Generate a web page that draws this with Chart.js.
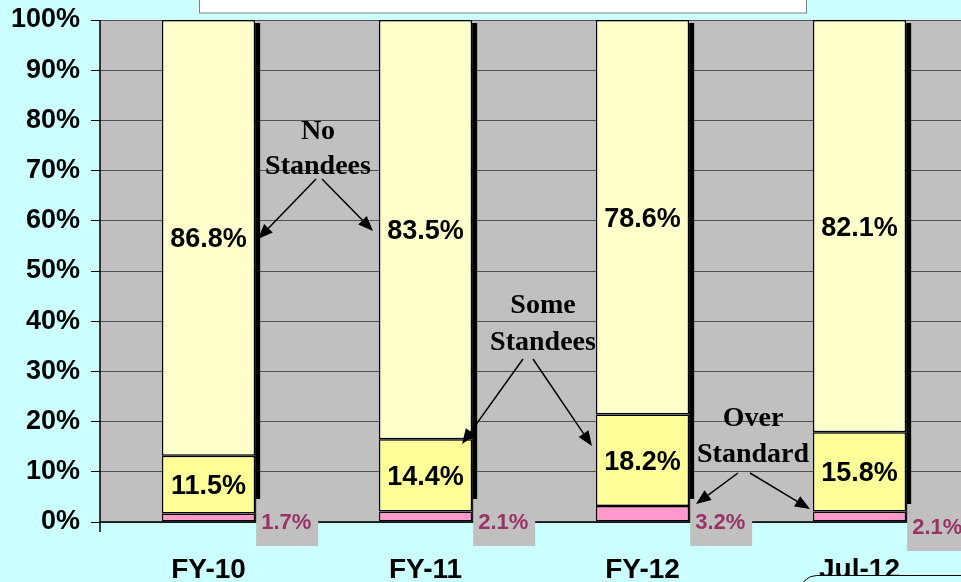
<!DOCTYPE html>
<html>
<head>
<meta charset="utf-8">
<script src="https://cdn.jsdelivr.net/npm/chart.js@4"></script>
<style>
    html, body { margin: 0; padding: 0; background: #ccffff; overflow: hidden; }
    #wrap { width: 961px; height: 582px; overflow: hidden; position: relative; }
</style>
</head>
<body>
<div id="wrap"><canvas id="standeeChart" width="980" height="582"></canvas></div>
<script>
const categories = ["FY-10", "FY-11", "FY-12", "Jul-12"];
const overStandard = [1.7, 2.1, 3.2, 2.1];
const someStandees = [11.5, 14.4, 18.2, 15.8];
const noStandees = [86.8, 83.5, 78.6, 82.1];
const yTicks = [0, 10, 20, 30, 40, 50, 60, 70, 80, 90, 100];

const BG = "#ccffff";
const PLOT = "#c0c0c0";

function arrow(ctx, x1, y1, x2, y2) {
    const ang = Math.atan2(y2 - y1, x2 - x1);
    const len = 15, half = 6;
    const bx = x2 - len * Math.cos(ang), by = y2 - len * Math.sin(ang);
    ctx.beginPath();
    ctx.moveTo(x1, y1);
    ctx.lineTo(bx, by);
    ctx.strokeStyle = "#000";
    ctx.lineWidth = 1.5;
    ctx.stroke();
    ctx.beginPath();
    ctx.moveTo(x2, y2);
    ctx.lineTo(bx + half * Math.sin(ang), by - half * Math.cos(ang));
    ctx.lineTo(bx - half * Math.sin(ang), by + half * Math.cos(ang));
    ctx.closePath();
    ctx.fillStyle = "#000";
    ctx.fill();
}

const backdrop = {
    id: "backdrop",
    beforeDraw(chart) {
        const { ctx, chartArea: a } = chart;
        ctx.save();
        ctx.fillStyle = BG;
        ctx.fillRect(0, 0, chart.width, chart.height);
        ctx.fillStyle = PLOT;
        ctx.fillRect(a.left, a.top, a.right - a.left, a.bottom - a.top);
        ctx.restore();
    },
};

const decorations = {
    id: "decorations",
    afterDatasetsDraw(chart) {
        const { ctx, chartArea: a } = chart;
        const y = chart.scales.y;
        const topMeta = chart.getDatasetMeta(2);
        const midMeta = chart.getDatasetMeta(1);
        const lowMeta = chart.getDatasetMeta(0);
        ctx.save();

        // axis lines
        ctx.strokeStyle = "#000";
        ctx.lineWidth = 1.5;
        ctx.beginPath();
        ctx.moveTo(a.left, a.bottom);
        ctx.lineTo(a.right, a.bottom);
        ctx.moveTo(a.left, a.top);
        ctx.lineTo(a.left, a.bottom + 10);
        ctx.stroke();

        // 3-D shadow on the right of each bar
        topMeta.data.forEach((bar) => {
            const right = bar.x + bar.width / 2;
            ctx.fillStyle = "#000";
            ctx.fillRect(right, bar.y + 3, 5, y.getPixelForValue(0) - bar.y - 3);
        });

        // values inside the bars
        ctx.fillStyle = "#000";
        ctx.font = "bold 27px 'Liberation Sans', Arial, sans-serif";
        ctx.textAlign = "center";
        ctx.textBaseline = "middle";
        topMeta.data.forEach((bar, i) => {
            ctx.fillText(noStandees[i].toFixed(1) + "%", bar.x, (bar.y + bar.base) / 2 + 2);
        });
        midMeta.data.forEach((bar, i) => {
            ctx.fillText(someStandees[i].toFixed(1) + "%", bar.x, (bar.y + bar.base) / 2 + 2);
        });

        // over-standard labels in grey boxes
        ctx.font = "bold 22px 'Liberation Sans', Arial, sans-serif";
        lowMeta.data.forEach((bar, i) => {
            const left = bar.x + bar.width / 2 + 1;
            const top = i === 3 ? 504 : 499;
            ctx.fillStyle = PLOT;
            ctx.fillRect(left, top, 62, 47);
            ctx.fillStyle = "#993366";
            ctx.textAlign = "left";
            ctx.fillText(overStandard[i].toFixed(1) + "%", left + 5, top + 24);
        });

        // annotations
        ctx.fillStyle = "#000";
        ctx.textAlign = "center";
        ctx.font = "bold 28px 'Liberation Serif', 'Times New Roman', serif";
        ctx.fillText("No", 318, 132);
        ctx.fillText("Standees", 318, 167);
        ctx.fillText("Some", 543, 306);
        ctx.fillText("Standees", 543, 343);
        ctx.fillText("Over", 753, 419);
        ctx.fillText("Standard", 753, 455);
        arrow(ctx, 316, 179, 258, 239);
        arrow(ctx, 322, 179, 373, 231);
        arrow(ctx, 523, 359, 462, 444);
        arrow(ctx, 533, 359, 592, 446);
        arrow(ctx, 738, 473, 696, 504);
        arrow(ctx, 750, 473, 810, 509);

        // title box remnant at top
        ctx.fillStyle = "#fff";
        ctx.fillRect(199, -2, 607, 15);
        ctx.strokeStyle = "#808080";
        ctx.lineWidth = 1;
        ctx.strokeRect(199.5, -2, 607, 15);
        ctx.restore();
    },
    afterDraw(chart) {
        const { ctx } = chart;
        ctx.save();
        ctx.beginPath();
        ctx.roundRect(800.5, 575.5, 200, 40, 16);
        ctx.fillStyle = BG;
        ctx.fill();
        ctx.strokeStyle = "#000";
        ctx.lineWidth = 1;
        ctx.stroke();
        ctx.restore();
    },
};

new Chart(document.getElementById("standeeChart"), {
    type: "bar",
    data: {
        labels: categories,
        datasets: [
            { label: "Over Standard", data: overStandard, backgroundColor: "#ff99cc" },
            { label: "Some Standees", data: someStandees, backgroundColor: "#ffff99" },
            { label: "No Standees", data: noStandees, backgroundColor: "#ffffcc" },
        ].map((ds) => ({
            ...ds,
            borderColor: "#000",
            borderWidth: 1.5,
            borderSkipped: false,
            barPercentage: 1,
            categoryPercentage: 0.43,
        })),
    },
    options: {
        responsive: false,
        animation: false,
        layout: { padding: { top: 20, right: 12, left: 0, bottom: 0 } },
        plugins: { legend: { display: false }, tooltip: { enabled: false } },
        scales: {
            x: {
                stacked: true,
                grid: { display: false, drawTicks: false },
                border: { display: false },
                ticks: {
                    color: "#000",
                    padding: 31,
                    font: { family: "'Liberation Sans', Arial, sans-serif", size: 28, weight: "bold" },
                },
                afterFit(scale) {
                    scale.height = 60;
                    scale.paddingLeft = 0;
                    scale.paddingRight = 0;
                },
            },
            y: {
                stacked: true,
                min: 0,
                max: 100,
                afterBuildTicks(scale) { scale.ticks = yTicks.map((v) => ({ value: v })); },
                grid: { color: "#505050", lineWidth: 1, tickColor: "#000", tickLength: 9 },
                border: { display: false },
                ticks: {
                    color: "#000",
                    padding: 11,
                    callback: (v) => v + "%",
                    font: { family: "'Liberation Sans', Arial, sans-serif", size: 27, weight: "bold" },
                },
                afterFit(scale) {
                    scale.width = 100;
                    scale.paddingTop = 0;
                    scale.paddingBottom = 0;
                },
            },
        },
    },
    plugins: [backdrop, decorations],
});
</script>
</body>
</html>
